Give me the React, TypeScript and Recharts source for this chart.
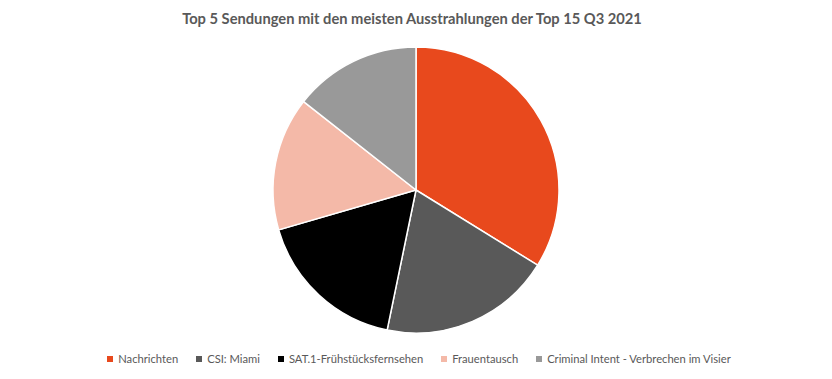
import { PieChart, Pie, Cell, Legend } from "recharts";

const shows = [
  "Nachrichten",
  "CSI: Miami",
  "SAT.1-Frühstücksfernsehen",
  "Frauentausch",
  "Criminal Intent - Verbrechen im Visier",
];
const broadcasts = [47, 27, 24, 21, 20];
const colors = ["#E8491D", "#595959", "#000000", "#F4B9A8", "#999999"];

const data = shows.map((name, i) => ({ name, value: broadcasts[i] }));

const FONT = "Lato, 'Open Sans', sans-serif";

function LegendRow() {
  return (
    <div
      style={{
        display: "flex",
        justifyContent: "center",
        gap: 18,
        fontFamily: FONT,
        fontSize: 11.2,
        color: "#595959",
        paddingLeft: 6,
      }}
    >
      {shows.map((s, i) => (
        <span key={s} style={{ display: "flex", alignItems: "center" }}>
          <span
            style={{
              width: 6,
              height: 6,
              background: colors[i],
              display: "inline-block",
              marginRight: 5,
            }}
          />
          {s}
        </span>
      ))}
    </div>
  );
}

export default function App() {
  return (
    <div
      style={{
        margin: -8,
        position: "relative",
        width: 832,
        height: 379,
        background: "#fff",
      }}
    >
      <div
        style={{
          position: "absolute",
          top: 9,
          left: -4,
          width: 832,
          textAlign: "center",
          fontFamily: FONT,
          fontWeight: 700,
          fontSize: 14.7,
          color: "#595959",
        }}
      >
        Top 5 Sendungen mit den meisten Ausstrahlungen der Top 15 Q3 2021
      </div>
      <PieChart width={832} height={379} margin={{ top: 0, right: 0, bottom: 0, left: 0 }}>
        <Pie
          data={data}
          dataKey="value"
          nameKey="name"
          cx={416}
          cy={190}
          outerRadius={143}
          startAngle={90}
          endAngle={-270}
          stroke="#fff"
          strokeWidth={1.5}
          isAnimationActive={false}
        >
          {data.map((d, i) => (
            <Cell key={d.name} fill={colors[i]} />
          ))}
        </Pie>
        <Legend
          verticalAlign="bottom"
          wrapperStyle={{ bottom: 14, left: 0, width: 832 }}
          content={() => <LegendRow />}
        />
      </PieChart>
    </div>
  );
}
